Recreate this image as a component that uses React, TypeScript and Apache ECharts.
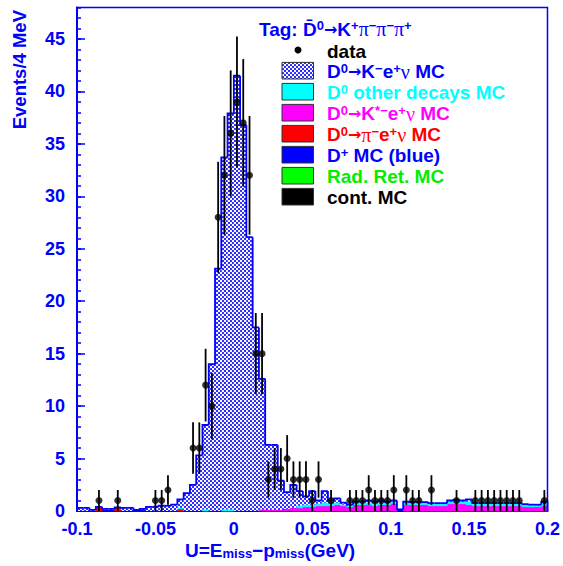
import React, { useEffect, useRef } from 'react';
import * as echarts from 'echarts';

// ---------- data (bins of 4 MeV from -0.1 to 0.2 GeV) ----------
const X_MIN = -0.1;
const BIN_W = 0.004;

const dataCounts = [
  0, 0, 0, 1, 0, 0, 1, 0, 0, 0,
  0, 0, 1, 1, 2, 0, 0, 0, 6, 6,
  12, 10, 28, 32, 36, 39, 37, 32, 15, 15,
  3, 4, 4, 5, 3, 3, 3, 1, 3, 0,
  1, 0, 0, 1, 1, 1, 2, 1, 1, 1,
  2, 0, 2, 1, 1, 0, 2, 0, 0, 0,
  1, 0, 0, 1, 1, 1, 1, 1, 1, 1,
  1, 0, 0, 0, 1,
];

const kenuMC = [
  0.3, 0.3, 0.1, 0.1, 0.1, 0.1, 0.05, 0.3, 0.3, 0,
  0.1, 0.4, 0.4, 0.5, 0.5, 0.6, 0.8, 1.7, 2.5, 5.3,
  8.05, 14.0, 23.1, 33.55, 37.75, 41.5, 36.8, 26.1, 17.5, 12.45,
  6.2, 6.2, 2.8, 1.6, 2.2, 1.4, 0.8, 1.3, 0.3, 1.1,
  0.3, 0.4, 0.2, 0.1, 0.1, 0.1, 0.2, 0.2, 0.2, 0.1,
  0.1, 0, 0.1, 0.05, 0.05, 0.05, 0.05, 0.05, 0.05, 0.1,
  0.15, 0.1, 0.2, 0.05, 0.05, 0.05, 0.05, 0.05, 0.05, 0.05,
  0.05, 0.05, 0.05, 0.05, 0.2,
];

const otherMC = [
  0, 0, 0, 0, 0, 0, 0, 0, 0, 0,
  0, 0, 0, 0, 0, 0, 0.1, 0, 0, 0,
  0.15, 0, 0, 0.15, 0.15, 0, 0, 0, 0, 0,
  0, 0, 0, 0, 0, 0.2, 0.2, 0.2, 0.2, 0.3,
  0.2, 0.2, 0.1, 0.1, 0.2, 0.2, 0.2, 0.2, 0.2, 0.2,
  0.2, 0, 0.2, 0.2, 0.2, 0.2, 0.2, 0.2, 0.2, 0.2,
  0.2, 0.2, 0.3, 0.2, 0.2, 0.2, 0.2, 0.2, 0.2, 0.2,
  0.2, 0.2, 0.15, 0.15, 0.2,
];

const kstarMC = [
  0, 0, 0, 0, 0, 0, 0, 0, 0, 0,
  0, 0, 0, 0, 0, 0, 0, 0, 0, 0,
  0, 0, 0, 0, 0, 0, 0, 0, 0, 0.15,
  0.1, 0.1, 0.1, 0.2, 0.3, 0.3, 0.4, 0.4, 0.5, 0.5,
  0.5, 0.6, 0.5, 0.4, 0.6, 0.6, 0.6, 0.5, 0.6, 0.6,
  0.7, 0, 0.6, 0.6, 0.6, 0.6, 0.5, 0.5, 0.5, 0.7,
  0.7, 0.7, 0.6, 0.5, 0.5, 0.5, 0.5, 0.5, 0.5, 0.5,
  0.5, 0.4, 0.4, 0.4, 0.5,
];

const pienuMC = [
  0, 0, 0, 0.3, 0, 0, 0.3, 0, 0, 0,
  0, 0, 0, 0, 0, 0, 0.2, 0, 0, 0,
  0, 0, 0, 0, 0, 0, 0, 0, 0, 0,
  0, 0, 0, 0, 0, 0, 0, 0, 0, 0,
  0, 0, 0, 0, 0, 0, 0, 0, 0, 0,
  0, 0, 0, 0, 0, 0, 0, 0, 0, 0,
  0, 0, 0, 0, 0, 0, 0, 0, 0, 0,
  0, 0, 0, 0, 0,
];

const dplusMC = [
  0, 0, 0, 0, 0.1, 0.1, 0, 0, 0, 0.1,
  0.1, 0, 0, 0, 0, 0, 0, 0, 0, 0,
  0, 0, 0, 0, 0, 0, 0, 0, 0, 0,
  0, 0, 0, 0, 0, 0, 0, 0, 0, 0,
  0, 0, 0, 0, 0, 0, 0, 0, 0, 0,
  0, 0.15, 0, 0, 0, 0, 0, 0, 0, 0,
  0, 0, 0, 0, 0, 0, 0, 0, 0, 0,
  0, 0, 0, 0, 0,
];

const radretMC = new Array(75).fill(0);
const contMC = new Array(75).fill(0);

const BLUE = '#0000ff';
const FONT = 'Liberation Sans';
const GREEK = 'Liberation Serif';

function makeHatch() {
  const c = document.createElement('canvas');
  c.width = 4;
  c.height = 4;
  const ctx = c.getContext('2d')!;
  ctx.fillStyle = '#0000ff';
  ctx.fillRect(0, 0, 4, 4);
  ctx.fillStyle = '#ffffff';
  const dots = [[1, 1], [3, 3], [-1, 3], [3, -1], [1, 5], [5, 1], [-1, -1], [5, 5]];
  dots.forEach(([x, y]) => {
    ctx.beginPath();
    ctx.arc(x, y, 1.2, 0, Math.PI * 2);
    ctx.fill();
  });
  return { image: c, repeat: 'repeat', imageWidth: 4, imageHeight: 4 } as any;
}

function rich(color: string, size = 19) {
  return {
    m: { fontFamily: FONT, fontWeight: 'bold', fontSize: size, lineHeight: 20, fill: color },
    a: { fontFamily: 'DejaVu Sans', fontWeight: 'bold', fontSize: size - 3, lineHeight: 20, fill: color },
    g: { fontFamily: GREEK, fontSize: size + 1, lineHeight: 20, fill: color },
    sup: { fontFamily: FONT, fontWeight: 'bold', fontSize: Math.round(size * 0.66), lineHeight: 10, verticalAlign: 'top', fill: color },
    sub: { fontFamily: FONT, fontWeight: 'bold', fontSize: Math.round(size * 0.68), lineHeight: 10, verticalAlign: 'bottom', fill: color },
  };
}

export default function App() {
  const ref = useRef<HTMLDivElement>(null);
  useEffect(() => {
    const chart = echarts.init(ref.current!, null, { renderer: 'svg' });
    const hatch = makeHatch();
    const N = dataCounts.length;
    const edgeL = (i: number) => X_MIN + i * BIN_W;
    const edgeR = (i: number) => X_MIN + (i + 1) * BIN_W;

    const comps = [
      { values: contMC, fill: '#000000' },
      { values: radretMC, fill: '#00ff00' },
      { values: dplusMC, fill: '#0000ff' },
      { values: pienuMC, fill: '#ff0000' },
      { values: kstarMC, fill: '#ff00ff' },
      { values: otherMC, fill: '#00ffff' },
      { values: kenuMC, fill: hatch },
    ];
    const base = new Array(N).fill(0);
    const series: any[] = [];
    comps.forEach((c, ci) => {
      const d: number[][] = [];
      for (let i = 0; i < N; i++) {
        d.push([edgeL(i), edgeR(i), base[i], base[i] + c.values[i]]);
        base[i] += c.values[i];
      }
      const solid = typeof c.fill === 'string';
      series.push({
        type: 'custom',
        silent: true,
        z: 2 + ci * 0.01,
        data: d,
        encode: { x: [0, 1], y: [2, 3] },
        renderItem: (params: any, api: any) => {
          if (api.value(3) - api.value(2) <= 0) return null;
          const p1 = api.coord([api.value(0), api.value(3)]);
          const p2 = api.coord([api.value(1), api.value(2)]);
          return {
            type: 'rect',
            shape: { x: p1[0], y: p1[1], width: p2[0] - p1[0], height: p2[1] - p1[1] },
            style: solid ? { fill: c.fill, stroke: c.fill, lineWidth: 0.6 } : { fill: c.fill },
          };
        },
      });
    });

    // outline of total MC
    const outline: number[][] = [];
    for (let i = 0; i < N; i++) outline.push([edgeL(i), edgeR(i), base[i], i > 0 ? base[i - 1] : 0]);
    series.push({
      type: 'custom',
      silent: true,
      z: 3,
      data: outline,
      encode: { x: [0, 1], y: [2, 3] },
      renderItem: (params: any, api: any) => {
        const pts = [
          api.coord([api.value(0), api.value(3)]),
          api.coord([api.value(0), api.value(2)]),
          api.coord([api.value(1), api.value(2)]),
        ];
        if (params.dataIndex === N - 1) pts.push(api.coord([api.value(1), 0]));
        return { type: 'polyline', shape: { points: pts }, style: { stroke: BLUE, lineWidth: 1.8, fill: 'none' } };
      },
    });

    // data points with sqrt(N) errors
    const pts: number[][] = [];
    const errs: number[][] = [];
    dataCounts.forEach((n, i) => {
      if (n > 0) {
        const xc = X_MIN + (i + 0.5) * BIN_W;
        pts.push([xc, n]);
        errs.push([xc, n - Math.sqrt(n), n + Math.sqrt(n)]);
      }
    });
    series.push({
      type: 'custom',
      silent: true,
      z: 5,
      data: errs,
      encode: { x: 0, y: [1, 2] },
      renderItem: (params: any, api: any) => {
        const a = api.coord([api.value(0), api.value(1)]);
        const b = api.coord([api.value(0), api.value(2)]);
        return { type: 'line', shape: { x1: a[0], y1: a[1], x2: b[0], y2: b[1] }, style: { stroke: '#000', lineWidth: 1.8 } };
      },
    });
    series.push({
      type: 'scatter',
      silent: true,
      z: 6,
      symbol: 'circle',
      symbolSize: 7,
      itemStyle: { color: '#000' },
      data: pts,
    });

    const legendRows = [
      { text: '{m|D}{sup|0}{a|→}{m|K}{sup|−}{m|e}{sup|+}{g|ν}{m| MC}', color: BLUE, fill: hatch },
      { text: '{m|D}{sup|0}{m| other decays MC}', color: '#00ffff', fill: '#00ffff' },
      { text: '{m|D}{sup|0}{a|→}{m|K}{sup|*−}{m|e}{sup|+}{g|ν}{m| MC}', color: '#ff00ff', fill: '#ff00ff' },
      { text: '{m|D}{sup|0}{a|→}{g|π}{sup|−}{m|e}{sup|+}{g|ν}{m| MC}', color: '#ff0000', fill: '#ff0000' },
      { text: '{m|D}{sup|+}{m| MC (blue)}', color: BLUE, fill: '#0000ff' },
      { text: '{m|Rad. Ret. MC}', color: '#00ee00', fill: '#00ff00' },
      { text: '{m|cont. MC}', color: '#000000', fill: '#000000' },
    ];
    const graphics: any[] = [];
    const rowY0 = 70.7;
    const rowDY = 21;
    legendRows.forEach((r, k) => {
      const cy = rowY0 + k * rowDY;
      graphics.push({
        type: 'rect',
        shape: { x: 282, y: cy - 8.3, width: 31.5, height: 16.6 },
        style: { fill: r.fill, stroke: '#333', lineWidth: 1 },
      });
      graphics.push({
        type: 'text',
        x: 327,
        y: cy + 1,
        style: { text: r.text, rich: rich(r.color), verticalAlign: 'middle', align: 'left' },
      });
    });
    graphics.push({ type: 'circle', shape: { cx: 298, cy: 50, r: 3.5 }, style: { fill: '#000' } });
    graphics.push({
      type: 'text', x: 327, y: 51,
      style: { text: '{m|data}', rich: rich('#000'), verticalAlign: 'middle', align: 'left' },
    });
    graphics.push({
      type: 'text', x: 259, y: 29,
      style: {
        text: '{m|Tag: D\u0304}{sup|0}{a|→}{m|K}{sup|+}{g|π}{sup|−}{g|π}{sup|−}{g|π}{sup|+}',
        rich: rich(BLUE, 19), verticalAlign: 'middle', align: 'left',
      },
    });
    // axis titles
    graphics.push({
      type: 'text', x: 19.5, y: 10, rotation: Math.PI / 2,
      style: { text: 'Events/4 MeV', font: `bold 18.5px "${FONT}"`, fill: BLUE, align: 'right', verticalAlign: 'middle' },
    });
    graphics.push({
      type: 'text', x: 185, y: 550,
      style: {
        text: '{m|U=E}{sub|miss}{m|−p}{sub|miss}{m|(GeV)}',
        rich: rich(BLUE, 19), verticalAlign: 'middle', align: 'left',
      },
    });

    const axisLabel = { color: BLUE, fontFamily: FONT, fontWeight: 'bold', fontSize: 18 };
    chart.setOption({
      animation: false,
      backgroundColor: '#fff',
      grid: { left: 77, right: 14.5, top: 7.5, bottom: 55, show: true, borderColor: BLUE, borderWidth: 1.5, backgroundColor: 'transparent' },
      xAxis: {
        type: 'value', min: -0.1, max: 0.2, interval: 0.05,
        axisLine: { show: true, onZero: false, lineStyle: { color: BLUE, width: 2 } },
        axisTick: { show: false },
        splitLine: { show: false },
        axisLabel: { ...axisLabel, margin: 9, formatter: (v: number) => String(parseFloat(v.toFixed(3))) },
      },
      yAxis: [
        {
          type: 'value', min: 0, max: 48, interval: 5, position: 'left',
          axisLine: { show: true, onZero: false, lineStyle: { color: BLUE, width: 2 } },
          axisTick: { show: true, inside: true, length: 8, lineStyle: { color: BLUE, width: 1.5 } },
          splitLine: { show: false },
          axisLabel: { ...axisLabel, margin: 12, showMaxLabel: false },
        },
        {
          type: 'value', min: 0, max: 48, interval: 1, position: 'left',
          axisLine: { show: false, onZero: false },
          axisTick: { show: true, inside: true, length: 4, lineStyle: { color: BLUE, width: 1.5 } },
          splitLine: { show: false },
          axisLabel: { show: false },
        },
      ],
      series,
      graphic: graphics,
    });
    return () => chart.dispose();
  }, []);
  return <div ref={ref} style={{ position: 'absolute', left: 0, top: 0, width: 563, height: 566, background: '#fff' }} />;
}
